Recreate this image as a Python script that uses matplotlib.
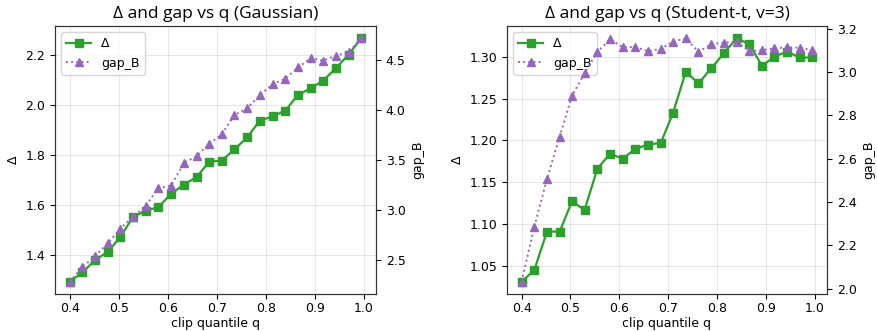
import matplotlib.pyplot as plt

# clip quantiles (24 points, 0.4 .. 0.995)
q = [0.400, 0.426, 0.452, 0.478, 0.503, 0.529, 0.555, 0.581, 0.607, 0.633,
     0.659, 0.685, 0.710, 0.736, 0.762, 0.788, 0.814, 0.840, 0.866, 0.892,
     0.917, 0.943, 0.969, 0.995]

# Gaussian
delta_gauss = [1.293, 1.331, 1.380, 1.413, 1.471, 1.551, 1.577, 1.591, 1.644, 1.681,
               1.711, 1.773, 1.776, 1.821, 1.869, 1.936, 1.953, 1.976, 2.040, 2.065,
               2.096, 2.145, 2.200, 2.265]
gap_gauss = [2.286, 2.433, 2.543, 2.670, 2.816, 2.933, 3.043, 3.221, 3.246, 3.473,
             3.540, 3.664, 3.757, 3.950, 4.017, 4.147, 4.258, 4.315, 4.425, 4.520,
             4.493, 4.543, 4.577, 4.717]

# Student-t, v=3
delta_t = [1.031, 1.045, 1.091, 1.091, 1.127, 1.117, 1.166, 1.184, 1.178, 1.190,
           1.195, 1.197, 1.233, 1.282, 1.268, 1.286, 1.304, 1.322, 1.315, 1.289,
           1.300, 1.306, 1.299, 1.299]
gap_t = [2.031, 2.285, 2.507, 2.702, 2.890, 2.995, 3.094, 3.152, 3.116, 3.116,
         3.097, 3.108, 3.141, 3.157, 3.094, 3.129, 3.137, 3.141, 3.097, 3.102,
         3.110, 3.116, 3.113, 3.102]

titles = ["Δ and gap vs q (Gaussian)", "Δ and gap vs q (Student-t, v=3)"]

plt.rcParams['font.size'] = 9

fig = plt.figure(figsize=(8.77, 3.32), dpi=100)
ax1 = fig.add_axes([0.0627, 0.1145, 0.366, 0.807])
ax2 = fig.add_axes([0.578, 0.1145, 0.365, 0.807])


def panel(ax, delta, gap, title):
    ax.plot(q, delta, color="#2ca02c", marker="s", markersize=6,
            linewidth=1.6, label="Δ")
    ax.set_xlabel("clip quantile q", labelpad=1)
    ax.set_ylabel("Δ")
    ax.tick_params(axis="x", pad=2.5)
    ax.grid(True, alpha=0.3)
    ax.set_title(title, fontsize=12.5, family="Open Sans")
    ax.set_xticks([0.4, 0.5, 0.6, 0.7, 0.8, 0.9, 1.0])
    ax.set_xlim(0.37, 1.025)
    axb = ax.twinx()
    axb.plot(q, gap, color="#9467bd", marker="^", markersize=6,
             linewidth=1.4, linestyle=":", label="gap_B")
    axb.set_ylabel("gap_B")
    for a in (ax, axb):
        for s in a.spines.values():
            s.set_color("#333333")
    h1, l1 = ax.get_legend_handles_labels()
    h2, l2 = axb.get_legend_handles_labels()
    ax.legend(h1 + h2, l1 + l2, loc="upper left")
    return axb


panel(ax1, delta_gauss, gap_gauss, titles[0])
panel(ax2, delta_t, gap_t, titles[1])

fig.savefig("out.png", dpi=100)
